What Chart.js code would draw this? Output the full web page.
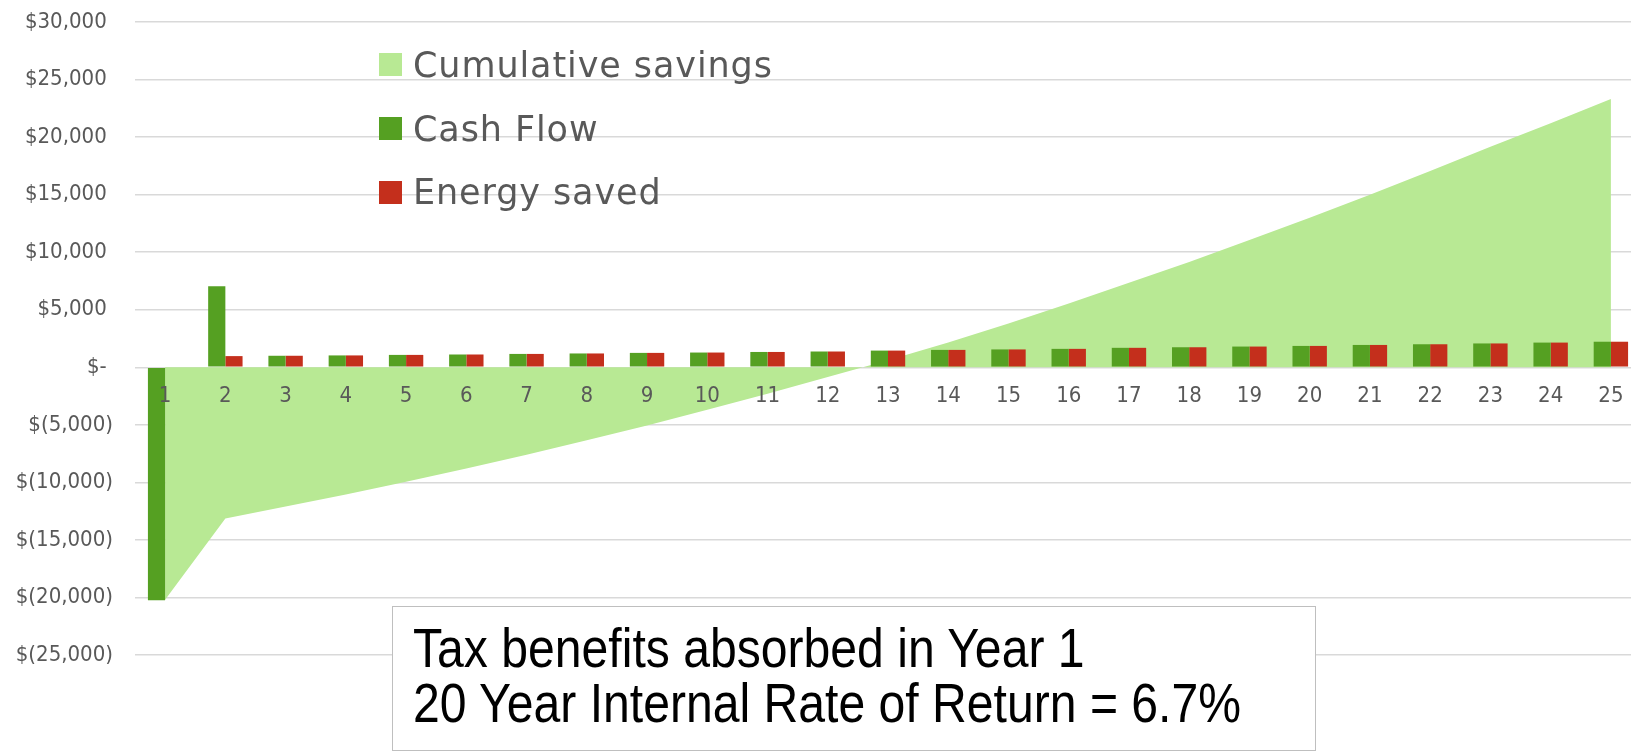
<!DOCTYPE html>
<html>
<head>
<meta charset="utf-8">
<title>Cumulative savings</title>
<script src="https://cdn.jsdelivr.net/npm/chart.js@4.4.1/dist/chart.umd.min.js"></script>
<style>
  html, body { margin: 0; padding: 0; background: #fff; overflow: hidden; }
  #wrap { position: relative; width: 1641px; height: 753px; }
  #legend {
    position: absolute; left: 379px; top: 33px;
    font-family: "DejaVu Sans", sans-serif; font-size: 35px; letter-spacing: 0.9px;
    color: #595959;
  }
  .item { display: flex; align-items: center; height: 63.7px; white-space: nowrap; }
  .swatch { width: 23px; height: 23px; margin-right: 11px; flex: none; }
  #note {
    position: absolute; left: 392px; top: 606px; width: 924px; height: 145px;
    border: 1.5px solid #bfbfbf; background: #fff; box-sizing: border-box;
  }
  #note div {
    position: absolute; left: 20px;
    font-family: "Liberation Sans", Arial, sans-serif; font-size: 55px; line-height: 1;
    transform: scaleX(0.875); transform-origin: left center;
    white-space: nowrap; color: #000;
  }
</style>
</head>
<body>
<div id="wrap">
  <canvas id="chart"></canvas>
  <div id="legend"></div>
  <div id="note"></div>
</div>
<script>
// years 1..25
const years = ['1','2','3','4','5','6','7','8','9','10','11','12','13',
               '14','15','16','17','18','19','20','21','22','23','24','25'];

const cumulativeSavings = [-20200, -13150, -12100, -11050, -9950, -8800, -7600, -6350, -5050,
  -3700, -2300, -850, 600, 2150, 3800, 5550, 7350, 9150, 11050, 13000, 15000, 17050,
  19150, 21200, 23300];

const cashFlow = [-20250, 7050, 1000, 1030, 1075, 1110, 1160, 1200, 1250, 1280, 1330, 1370,
  1450, 1510, 1550, 1600, 1690, 1740, 1800, 1855, 1940, 2000, 2070, 2145, 2220];

const energySaved = [0, 970, 1000, 1030, 1075, 1110, 1160, 1200, 1250, 1280, 1330, 1370,
  1450, 1510, 1550, 1600, 1690, 1740, 1800, 1855, 1940, 2000, 2070, 2145, 2220];

const seriesNames = ['Cumulative savings', 'Cash Flow', 'Energy saved'];
const seriesColors = ['#b8e994', '#55a022', '#c42f1c'];
const noteLines = ['Tax benefits absorbed in Year 1', '20 Year Internal Rate of Return = 6.7%'];

function money(v) {
  if (v === 0) return '$- ';
  const s = Math.abs(v).toLocaleString('en-US');
  return v < 0 ? '$(' + s + ')' : '$' + s + ' ';
}

Chart.defaults.font.family = '"DejaVu Sans Condensed", "DejaVu Sans", sans-serif';
Chart.defaults.color = '#595959';

const ctx = document.getElementById('chart').getContext('2d');
const myChart = new Chart(ctx, {
  type: 'bar',
  data: {
    labels: years,
    datasets: [{
      type: 'line',
      label: seriesNames[0],
      data: cumulativeSavings,
      fill: 'origin',
      backgroundColor: seriesColors[0],
      borderWidth: 0,
      pointRadius: 0,
      tension: 0,
      order: 2
    }, {
      label: seriesNames[1],
      data: cashFlow,
      backgroundColor: seriesColors[1],
      order: 1
    }, {
      label: seriesNames[2],
      data: energySaved,
      backgroundColor: seriesColors[2],
      order: 1
    }]
  },
  options: {
    responsive: true,
    maintainAspectRatio: false,
    animation: false,
    datasets: {
      bar: { categoryPercentage: 0.571, barPercentage: 1.0 }
    },
    layout: { padding: { top: 22, bottom: 98, left: 0, right: 0 } },
    plugins: {
      legend: { display: false },
      tooltip: { enabled: false }
    },
    scales: {
      x: {
        position: { y: 0 },
        grid: { display: false, drawTicks: false },
        border: { display: false },
        // z 1 so the year labels sit over the area
        ticks: { z: 1, font: { size: 22 }, padding: 16, maxRotation: 0, autoSkip: false }
      },
      y: {
        min: -25000,
        max: 30000,
        afterFit: s => { s.width = 135; },
        // invisible ticks make the gap, ticks.padding would also pad the top
        grid: { color: '#d9d9d9', lineWidth: 1.5, drawTicks: true, tickLength: 22, tickColor: 'rgba(0,0,0,0)' },
        border: { display: false },
        ticks: {
          stepSize: 5000,
          padding: 0,
          font: { size: 22 },
          callback: v => money(v)
        }
      }
    }
  }
});

// legend as html, built from the chart's datasets
const legendEl = document.getElementById('legend');
myChart.data.datasets.forEach(ds => {
  const row = document.createElement('div');
  row.className = 'item';
  const sw = document.createElement('span');
  sw.className = 'swatch';
  sw.style.background = ds.backgroundColor;
  row.appendChild(sw);
  row.appendChild(document.createTextNode(ds.label));
  legendEl.appendChild(row);
});

const noteEl = document.getElementById('note');
noteLines.forEach((t, i) => {
  const d = document.createElement('div');
  d.textContent = t;
  d.style.top = (14 + i * 55) + 'px';
  noteEl.appendChild(d);
});
</script>
</body>
</html>
